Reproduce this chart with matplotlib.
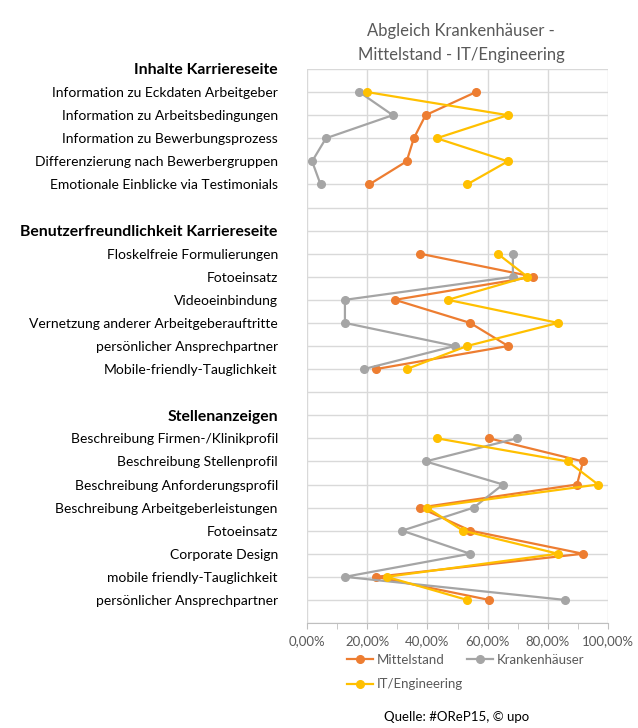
import numpy as np
import matplotlib
matplotlib.use("Agg")
from matplotlib import pyplot as plt
from matplotlib.ticker import FuncFormatter, MultipleLocator

plt.rcParams['font.family'] = ['Lato', 'DejaVu Sans']

# Sections: header + items
headers = ["Inhalte Karriereseite",
           "Benutzerfreundlichkeit Karriereseite",
           "Stellenanzeigen"]

items_inhalte = ["Information zu Eckdaten Arbeitgeber",
                 "Information zu Arbeitsbedingungen",
                 "Information zu Bewerbungsprozess",
                 "Differenzierung nach Bewerbergruppen",
                 "Emotionale Einblicke via Testimonials"]
items_benutzer = ["Floskelfreie Formulierungen",
                  "Fotoeinsatz",
                  "Videoeinbindung",
                  "Vernetzung anderer Arbeitgeberauftritte",
                  "persönlicher Ansprechpartner",
                  "Mobile-friendly-Tauglichkeit"]
items_stellen = ["Beschreibung Firmen-/Klinikprofil",
                 "Beschreibung Stellenprofil",
                 "Beschreibung Anforderungsprofil",
                 "Beschreibung Arbeitgeberleistungen",
                 "Fotoeinsatz",
                 "Corporate Design",
                 "mobile friendly-Tauglichkeit",
                 "persönlicher Ansprechpartner"]

# values in percent, per section
mittel_inhalte = [56.1, 39.4, 35.5, 33.1, 20.7]
mittel_benutzer = [37.5, 75.2, 29.2, 54.2, 66.8, 22.9]
mittel_stellen = [60.5, 91.7, 89.7, 37.5, 54.3, 91.7, 22.9, 60.5]

kranken_inhalte = [17.4, 28.5, 6.3, 1.7, 4.5]
kranken_benutzer = [68.4, 68.4, 12.6, 12.6, 49.1, 18.9]
kranken_stellen = [69.8, 39.4, 65.1, 55.4, 31.6, 54.2, 12.6, 85.7]

it_inhalte = [20.0, 66.7, 43.1, 66.7, 53.2]
it_benutzer = [63.3, 73.2, 46.8, 83.4, 53.2, 33.1]
it_stellen = [43.2, 86.6, 96.7, 39.8, 51.8, 83.4, 26.5, 53.2]


def build(a, b, c):
    # header row, items, blank row ... (NaN = gap)
    out = [np.nan] + a + [np.nan, np.nan] + b + [np.nan, np.nan] + c
    return np.array(out, dtype=float) / 100.0


labels = [headers[0]] + items_inhalte + [""] + [headers[1]] + items_benutzer \
         + [""] + [headers[2]] + items_stellen
rows = np.arange(len(labels))

series = [("Mittelstand", build(mittel_inhalte, mittel_benutzer, mittel_stellen), "#ED7D31"),
          ("Krankenhäuser", build(kranken_inhalte, kranken_benutzer, kranken_stellen), "#A5A5A5"),
          ("IT/Engineering", build(it_inhalte, it_benutzer, it_stellen), "#FFC000")]

fig = plt.figure(figsize=(6.38, 7.28), dpi=100)
ax = fig.add_axes([307/638, 1-623/728, 301/638, 554/728])

lines = {}
for name, vals, col in series:
    lines[name], = ax.plot(vals, rows, color=col, lw=1.6, marker='o', ms=5.5, label=name)

ax.set_xlim(0, 1)
ax.set_ylim(len(labels), 0)
ax.set_yticks(np.arange(len(labels) + 1))
ax.set_yticklabels(labels + [""])
ax.xaxis.set_major_locator(MultipleLocator(0.2))
ax.xaxis.set_minor_locator(MultipleLocator(0.1))
ax.xaxis.set_major_formatter(FuncFormatter(lambda v, p: ("%.2f%%" % (v*100)).replace(".", ",")))

ax.grid(True, which='major', color='#D9D9D9', lw=1)
ax.set_axisbelow(True)
for s in ['top', 'right', 'left']:
    ax.spines[s].set_visible(False)
ax.spines['bottom'].set_color('#BFBFBF')

ax.tick_params(axis='y', length=0, pad=21, labelsize=10, labelcolor='black')
ax.tick_params(axis='x', which='both', length=4, color='#BFBFBF', labelsize=9.5,
               labelcolor='#595959', pad=5)
for t in ax.get_yticklabels():
    if t.get_text() in headers:
        t.set_fontweight('bold')
        t.set_fontsize(11.3)

fig.text(461/638, 1-43/728, "Abgleich Krankenhäuser -\nMittelstand - IT/Engineering",
         ha='center', va='center', fontsize=12, color='#595959', linespacing=1.6)

# legend: row 1 Mittelstand / Krankenhäuser, row 2 IT/Engineering
leg_kw = dict(loc='upper left', frameon=False, fontsize=9.5, handlelength=2.0,
              labelcolor='#595959', handletextpad=0.3, labelspacing=0.95)
left = ["Mittelstand", "IT/Engineering"]
leg1 = fig.legend([lines[n] for n in left], left,
                  bbox_to_anchor=(335/638, 1-642/728), **leg_kw)
fig.legend([lines["Krankenhäuser"]], ["Krankenhäuser"],
           bbox_to_anchor=(455/638, 1-642/728), **leg_kw)

fig.text(457/638, 1-717/728, "Quelle: #OReP15, © upo", ha='center', va='center',
         fontsize=9.5, color='black')

fig.savefig("out.png", dpi=100)
